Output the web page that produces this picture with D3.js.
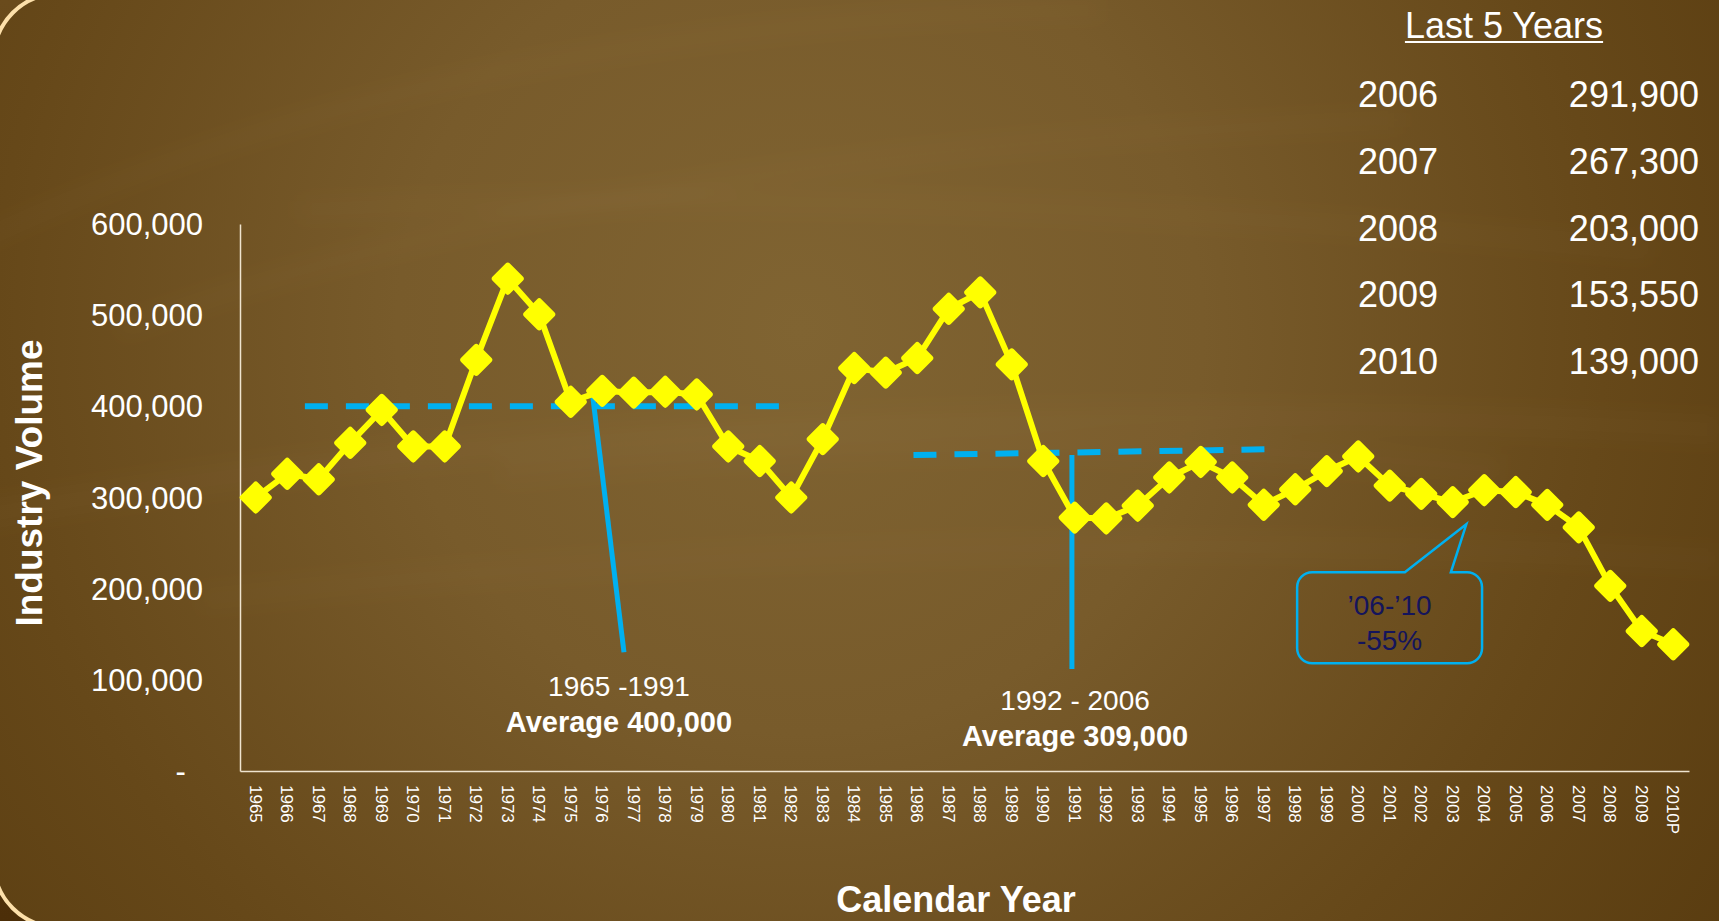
<!DOCTYPE html>
<html>
<head>
<meta charset="utf-8">
<title>Industry Volume by Calendar Year</title>
<script src="https://cdn.jsdelivr.net/npm/d3@7"></script>
<style>
  html, body { margin: 0; padding: 0; overflow: hidden; background: #5e4113; }
  svg { display: block; }
  text { font-family: "Liberation Sans", Arial, Helvetica, sans-serif; }
</style>
</head>
<body>
<svg id="chart"></svg>
<script>
// ---- Data ----------------------------------------------------------------
const categories = [
  "1965","1966","1967","1968","1969","1970","1971","1972","1973","1974",
  "1975","1976","1977","1978","1979","1980","1981","1982","1983","1984",
  "1985","1986","1987","1988","1989","1990","1991","1992","1993","1994",
  "1995","1996","1997","1998","1999","2000","2001","2002","2003","2004",
  "2005","2006","2007","2008","2009","2010P"
];
const volumes = [
  300000, 326000, 320000, 360000, 396000, 356000, 356000, 451000, 540000, 501000,
  405000, 417000, 415000, 416000, 413000, 356000, 340000, 300000, 364000, 442000,
  437000, 453000, 507000, 525000, 446000, 340000, 278000, 277000, 291000, 322000,
  339000, 322000, 292000, 309000, 329000, 345000, 313000, 304000, 295000, 308000,
  306000, 291900, 267300, 203000, 153550, 139000
];
const yTickValues = [0, 100000, 200000, 300000, 400000, 500000, 600000];
const yTickLabels = ["-\u2007", "100,000", "200,000", "300,000", "400,000", "500,000", "600,000"];

const tableTitle = "Last 5 Years";
const tableYears = ["2006", "2007", "2008", "2009", "2010"];
const tableValues = [291900, 267300, 203000, 153550, 139000];

// Period averages: dashed guide, leader line and caption, in chart units [year, volume]
const averageGuides = [
  { from: [1966.56, 400000], to: [1981.98, 400000] },
  { from: [1985.88, 346600], to: [1997.22, 352900] }
];
const averageLeaders = [
  { from: [1975.67, 419000], to: [1976.69, 130200] },
  { from: [1990.91, 346600], to: [1990.91, 111900] }
];
const averageCaptions = [
  { period: "1965 -1991",  average: "Average 400,000", at: [1976.53, 82300] },
  { period: "1992 - 2006", average: "Average 309,000", at: [1991.01, 67000] }
];

// Change callout for 2006-2010
const changeCallout = {
  lines: ["\u201906-\u201910", "-55%"],
  box: { left: 1998.06, right: 2003.93, top: 218000, bottom: 118100 },
  tail: { base1: 2001.48, base2: 2002.94, tip: [2003.43, 270600] }
};

// ---- Canvas --------------------------------------------------------------
const W = 1719, H = 921;
const svg = d3.select("#chart").attr("width", W).attr("height", H);
const defs = svg.append("defs");

const baseGrad = defs.append("linearGradient").attr("id", "base")
  .attr("x1", 0).attr("y1", 0).attr("x2", 0).attr("y2", 1);
baseGrad.append("stop").attr("offset", 0).attr("stop-color", "#6a4b1c");
baseGrad.append("stop").attr("offset", 1).attr("stop-color", "#4c2e08");

const slideGrad = defs.append("radialGradient").attr("id", "slide")
  .attr("gradientUnits", "userSpaceOnUse")
  .attr("cx", 800).attr("cy", 330).attr("r", 1150)
  .attr("fx", 800).attr("fy", 330);
slideGrad.append("stop").attr("offset", 0).attr("stop-color", "#806432");
slideGrad.append("stop").attr("offset", 0.35).attr("stop-color", "#785b2b");
slideGrad.append("stop").attr("offset", 0.7).attr("stop-color", "#664819");
slideGrad.append("stop").attr("offset", 1).attr("stop-color", "#583b0f");

const soft = defs.append("filter").attr("id", "soft")
  .attr("x", "-20%").attr("y", "-50%").attr("width", "140%").attr("height", "200%");
soft.append("feGaussianBlur").attr("stdDeviation", 9);

svg.append("rect").attr("width", W).attr("height", H).attr("fill", "url(#base)");
svg.append("rect")
  .attr("x", -6).attr("y", -6).attr("width", W + 200).attr("height", H + 12)
  .attr("rx", 64).attr("ry", 64)
  .attr("fill", "url(#slide)");

// faint wood-grain streaks
const grain = svg.append("g").attr("filter", "url(#soft)").attr("fill", "none")
  .attr("stroke", "#f0d8a8");
const streaks = [
  ["M -60 260 Q 420 20 1100 10", 12, 0.03],
  ["M 120 330 Q 600 150 1400 120", 16, 0.025],
  ["M -40 520 Q 700 380 1719 430", 26, 0.025],
  ["M 200 600 Q 900 520 1719 560", 22, 0.02],
  ["M 300 210 Q 900 180 1650 250", 18, 0.025],
  ["M 500 470 Q 1000 420 1500 470", 30, 0.02]
];
streaks.forEach(([d, w, o]) => grain.append("path").attr("d", d)
  .attr("stroke-width", w).attr("stroke-opacity", o));

// slide frame
svg.append("rect")
  .attr("x", -6).attr("y", -6).attr("width", W + 200).attr("height", H + 12)
  .attr("rx", 64).attr("ry", 64)
  .attr("fill", "none").attr("stroke", "#fde0aa").attr("stroke-width", 4);

// ---- Scales --------------------------------------------------------------
const x = d3.scaleBand().domain(categories).range([240, 1689]).padding(0);
const y = d3.scaleLinear().domain([0, 600000]).range([771, 224]);
const cx = c => x(c) + x.bandwidth() / 2;
// continuous year position for annotations
const xAt = d3.scaleLinear()
  .domain([1965, 1965 + categories.length - 1])
  .range([cx(categories[0]), cx(categories[categories.length - 1])]);

const axisColor = "#efe4cf";
const white = "#ffffff";
const blue = "#00b0f0";

// ---- Axes ----------------------------------------------------------------
const yAxis = svg.append("g").attr("transform", "translate(240,0)")
  .call(d3.axisLeft(y).tickValues(yTickValues)
    .tickFormat((d, i) => yTickLabels[i]).tickSize(0).tickSizeOuter(0).tickPadding(37));
yAxis.select(".domain").attr("stroke", axisColor).attr("stroke-width", 1.5);
yAxis.selectAll(".tick text")
  .attr("fill", white).attr("font-size", 31).attr("dy", "0.34em")
  .style("font-family", "'Liberation Sans', Arial, sans-serif");

const xAxis = svg.append("g").attr("transform", "translate(0,771)")
  .call(d3.axisBottom(x).tickSize(0).tickSizeOuter(0));
xAxis.select(".domain").attr("stroke", axisColor).attr("stroke-width", 1.5);
xAxis.selectAll(".tick text")
  .attr("fill", white).attr("font-size", 17)
  .attr("transform", "rotate(90)")
  .attr("text-anchor", "start")
  .attr("x", 14).attr("y", 0).attr("dy", "0.35em")
  .style("font-family", "'Liberation Sans', Arial, sans-serif");

svg.append("text")
  .attr("transform", "translate(42,483) rotate(-90)")
  .attr("text-anchor", "middle")
  .attr("fill", white).attr("font-size", 37).attr("font-weight", "bold")
  .text("Industry Volume");

svg.append("text")
  .attr("x", 956).attr("y", 912)
  .attr("text-anchor", "middle")
  .attr("fill", white).attr("font-size", 36).attr("font-weight", "bold")
  .text("Calendar Year");

// ---- Period-average annotations -----------------------------------------
const ann = svg.append("g");
averageGuides.forEach(g => {
  ann.append("line")
    .attr("x1", xAt(g.from[0])).attr("y1", y(g.from[1]))
    .attr("x2", xAt(g.to[0])).attr("y2", y(g.to[1]))
    .attr("stroke", blue).attr("stroke-width", 6)
    .attr("stroke-dasharray", "23,18");
});
averageLeaders.forEach(l => {
  ann.append("line")
    .attr("x1", xAt(l.from[0])).attr("y1", y(l.from[1]))
    .attr("x2", xAt(l.to[0])).attr("y2", y(l.to[1]))
    .attr("stroke", blue).attr("stroke-width", 5);
});
averageCaptions.forEach(c => {
  const t = ann.append("text")
    .attr("x", xAt(c.at[0])).attr("y", y(c.at[1]))
    .attr("text-anchor", "middle").attr("fill", white);
  t.append("tspan").attr("font-size", 28).text(c.period);
  t.append("tspan").attr("x", xAt(c.at[0])).attr("dy", 36)
    .attr("font-size", 29).attr("font-weight", "bold").text(c.average);
});

// ---- Series --------------------------------------------------------------
const line = d3.line()
  .x((d, i) => cx(categories[i]))
  .y(d => y(d));

svg.append("path")
  .datum(volumes)
  .attr("d", line)
  .attr("fill", "none")
  .attr("stroke", "#ffff00")
  .attr("stroke-width", 6)
  .attr("stroke-linejoin", "round");

const diamond = d3.symbol().type(d3.symbolSquare).size(338);
svg.append("g").selectAll("path")
  .data(volumes)
  .join("path")
  .attr("d", diamond)
  .attr("transform", (d, i) => `translate(${cx(categories[i])},${y(d)}) rotate(45)`)
  .attr("fill", "#ffff00")
  .attr("stroke", "#ffff00")
  .attr("stroke-width", 6)
  .attr("stroke-linejoin", "round");

// ---- 2006-2010 change callout -------------------------------------------
{
  const b = changeCallout.box, t = changeCallout.tail;
  const L = xAt(b.left), R = xAt(b.right), T = y(b.top), B = y(b.bottom), r = 15;
  const p = d3.path();
  p.moveTo(L + r, T);
  p.lineTo(xAt(t.base1), T);
  p.lineTo(xAt(t.tip[0]), y(t.tip[1]));
  p.lineTo(xAt(t.base2), T);
  p.lineTo(R - r, T);
  p.arcTo(R, T, R, T + r, r);
  p.lineTo(R, B - r);
  p.arcTo(R, B, R - r, B, r);
  p.lineTo(L + r, B);
  p.arcTo(L, B, L, B - r, r);
  p.lineTo(L, T + r);
  p.arcTo(L, T, L + r, T, r);
  p.closePath();
  svg.append("path").attr("d", p.toString())
    .attr("fill", "none").attr("stroke", blue).attr("stroke-width", 2.5)
    .attr("stroke-linejoin", "miter");
  const mid = (L + R) / 2;
  changeCallout.lines.forEach((s, i) => {
    svg.append("text")
      .attr("x", mid).attr("y", T + 43 + i * 35)
      .attr("text-anchor", "middle")
      .attr("fill", "#14145c").attr("font-size", 28)
      .text(s);
  });
}

// ---- Last 5 years table --------------------------------------------------
const title = svg.append("text")
  .attr("x", 1504).attr("y", 38)
  .attr("text-anchor", "middle")
  .attr("fill", white).attr("font-size", 36)
  .text(tableTitle);
const tw = title.node().getComputedTextLength();
svg.append("line")
  .attr("x1", 1504 - tw / 2).attr("x2", 1504 + tw / 2)
  .attr("y1", 42).attr("y2", 42)
  .attr("stroke", white).attr("stroke-width", 2);

const fmt = d3.format(",");
const rowY = d3.scalePoint().domain(tableYears).range([107, 374]);
svg.append("g").selectAll("text")
  .data(tableYears)
  .join("text")
  .attr("x", 1358).attr("y", d => rowY(d))
  .attr("fill", white).attr("font-size", 36)
  .text(d => d);
svg.append("g").selectAll("text")
  .data(tableValues)
  .join("text")
  .attr("x", 1699).attr("y", (d, i) => rowY(tableYears[i]))
  .attr("text-anchor", "end")
  .attr("fill", white).attr("font-size", 36)
  .text(d => fmt(d));
</script>
</body>
</html>
